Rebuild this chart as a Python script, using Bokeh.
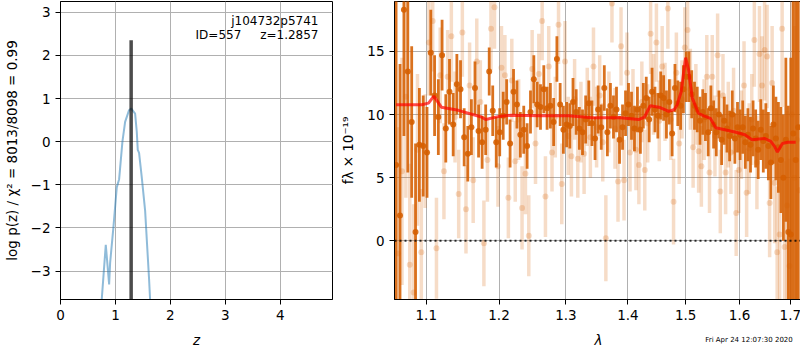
import numpy as np
from bokeh.plotting import figure
from bokeh.layouts import row
from bokeh.models import Range1d, Span, Label, CustomJSTickFormatter, PrintfTickFormatter
from bokeh.embed import file_html
from bokeh.resources import INLINE

FONT = "DejaVu Sans"

# ---------------- left panel data: log p(z) ----------------
z_pz = [0.70, 0.751, 0.824, 0.885, 0.903, 0.964, 1.024, 1.067, 1.127, 1.176, 1.248,
        1.285, 1.358, 1.388, 1.406, 1.43, 1.479, 1.54, 1.612, 1.63, 1.67]
logpz = [-5.0, -3.65, -2.39, -3.31, -2.81, -1.97, -1.06, -0.87, 0.0, 0.46, 0.73,
         0.77, 0.65, 0.23, -0.19, -0.26, -0.83, -1.6, -3.19, -3.65, -4.6]
z_best = 1.2857
z_best_top = 2.35
obj_name = "j104732p5741"
obj_id = "ID=557"
z_text = "z=1.2857"

# ---------------- right panel data: spectrum ----------------
# strong (dark) spectrum
lamA = [1.061, 1.066, 1.071, 1.076, 1.081, 1.086, 1.091, 1.096, 1.101, 1.106,
        1.111, 1.116, 1.121, 1.126, 1.131, 1.136, 1.141, 1.146, 1.151, 1.156,
        1.161, 1.166, 1.171, 1.176, 1.181, 1.186, 1.191, 1.196, 1.201, 1.206,
        1.211, 1.216, 1.221, 1.226, 1.231, 1.236, 1.241, 1.246, 1.251, 1.256,
        1.261, 1.266, 1.271, 1.276, 1.281, 1.286, 1.291, 1.296, 1.301, 1.306,
        1.311, 1.316, 1.321, 1.326, 1.331, 1.336, 1.341, 1.346, 1.351, 1.356,
        1.361, 1.366, 1.371, 1.376, 1.381, 1.386, 1.391, 1.396, 1.401, 1.406,
        1.411, 1.416, 1.421, 1.426, 1.431, 1.436, 1.441, 1.446, 1.451, 1.456,
        1.461, 1.466, 1.471, 1.476, 1.481, 1.486, 1.491, 1.496, 1.501, 1.506,
        1.511, 1.516, 1.521, 1.526, 1.531, 1.536, 1.541, 1.546, 1.551, 1.556,
        1.561, 1.566, 1.571, 1.576, 1.581, 1.586, 1.591, 1.596, 1.601, 1.606,
        1.611, 1.616, 1.621, 1.626, 1.631, 1.636, 1.641, 1.646, 1.651, 1.656,
        1.661, 1.666, 1.671, 1.676, 1.681, 1.686, 1.691, 1.696, 1.701, 1.706,
        1.711, 1.716]
fluxA = [6.0, 2.0, 18.3, 13.4, 9.4, 0.7, 7.6, 7.5, 7.0, 14.9,
         11.5, 9.8, 14.7, 8.9, 11.8, 9.2, 12.4, 12.0, 8.2, 6.9,
         9.0, 12.1, 8.7, 7.8, 8.8, 13.4, 10.3, 7.8, 8.6, 9.9,
         11.0, 7.7, 11.8, 10.8, 8.4, 8.8, 7.5, 10.2, 12.8, 10.8,
         10.6, 12.0, 10.5, 10.7, 9.4, 14.4, 10.8, 8.8, 9.2, 9.1,
         11.0, 10.2, 8.9, 8.6, 9.6, 10.9, 9.3, 8.1, 10.4, 9.0,
         12.1, 8.6, 10.7, 9.8, 10.4, 8.0, 9.0, 10.1, 10.8, 9.9,
         8.9, 10.4, 8.8, 10.7, 11.3, 9.6, 11.8, 10.4, 9.9, 11.5,
         11.3, 10.0, 11.0, 8.5, 12.1, 10.9, 10.7, 12.0, 13.0, 13.0,
         11.6, 10.7, 10.4, 9.5, 10.2, 9.8, 8.6, 10.5, 9.2, 8.6,
         10.0, 8.0, 9.5, 8.9, 8.3, 10.0, 8.1, 9.0, 8.4, 9.0,
         7.8, 8.4, 7.6, 8.9, 8.1, 7.2, 8.8, 7.9, 8.3, 7.5,
         6.2, 9.2, 8.1, 7.4, 6.4, 5.0, 8.0, 0.7, 0.5, 8.5,
         6.4, 9.0]
errA = [14, 12, 10, 8, 6, 7, 4.5, 4.0, 3.6, 3.4,
        3.2, 3.0, 2.8, 2.7, 2.6, 2.5, 2.4, 2.3, 2.3, 2.2,
        2.2, 2.1, 2.1, 2.1, 2.0, 1.9, 2.0, 2.0, 1.9, 1.9,
        1.8, 1.9, 1.8, 1.9, 1.8, 1.9, 1.8, 1.7, 1.9, 1.8,
        1.8, 1.9, 1.7, 1.8, 1.9, 1.8, 1.7, 1.9, 1.8, 1.8,
        1.9, 1.8, 1.7, 1.8, 1.9, 1.8, 1.8, 1.7, 1.9, 1.8,
        1.8, 1.9, 1.8, 1.7, 1.8, 1.9, 1.8, 1.8, 1.7, 1.9,
        1.8, 1.8, 1.9, 1.8, 1.7, 1.8, 1.9, 1.8, 1.8, 1.9,
        1.8, 1.9, 1.8, 1.8, 1.9, 1.8, 1.9, 1.9, 2.0, 2.0,
        1.9, 1.9, 1.8, 1.9, 1.8, 1.9, 1.9, 1.8, 1.9, 1.9,
        1.9, 2.0, 1.9, 1.9, 2.0, 1.9, 2.0, 2.0, 2.0, 2.1,
        2.1, 2.1, 2.2, 2.2, 2.3, 2.3, 2.4, 2.5, 2.6, 2.7,
        2.9, 3.1, 3.3, 3.6, 4.2, 5.0, 6.5, 10, 14, 16,
        18, 20]

# weak (light) spectrum
lamB = [1.0635, 1.0685, 1.0735, 1.0785, 1.0835, 1.0885, 1.0935, 1.0985, 1.1035, 1.1085,
        1.1135, 1.1185, 1.1235, 1.1285, 1.1335, 1.1385, 1.1435, 1.1485, 1.1535, 1.1585,
        1.1635, 1.1685, 1.1735, 1.1785, 1.1835, 1.1885, 1.1935, 1.1985, 1.2035, 1.2085,
        1.2135, 1.2185, 1.2235, 1.2285, 1.2335, 1.2385, 1.2435, 1.2485, 1.2535, 1.2585,
        1.2635, 1.2685, 1.2735, 1.2785, 1.2835, 1.2885, 1.2935, 1.2985, 1.3035, 1.3085,
        1.3135, 1.3185, 1.3235, 1.3285, 1.3335, 1.3385, 1.3435, 1.3485, 1.3535, 1.3585,
        1.3635, 1.3685, 1.3735, 1.3785, 1.3835, 1.3885, 1.3935, 1.3985, 1.4035, 1.4085,
        1.4135, 1.4185, 1.4235, 1.4285, 1.4335, 1.4385, 1.4435, 1.4485, 1.4535, 1.4585,
        1.4635, 1.4685, 1.4735, 1.4785, 1.4835, 1.4885, 1.4935, 1.4985, 1.5035, 1.5085,
        1.5135, 1.5185, 1.5235, 1.5285, 1.5335, 1.5385, 1.5435, 1.5485, 1.5535, 1.5585,
        1.5635, 1.5685, 1.5735, 1.5785, 1.5835, 1.5885, 1.5935, 1.5985, 1.6035, 1.6085,
        1.6135, 1.6185, 1.6235, 1.6285, 1.6335, 1.6385, 1.6435, 1.6485, 1.6535, 1.6585,
        1.6635, 1.6685, 1.6735, 1.6785, 1.6835, 1.6885, 1.6935, 1.6985, 1.7035, 1.7085,
        1.7135, 1.7185]
fluxB = [-1.0, 5.5, 11.4, -1.9, -4.1, 7.2, -0.9, 7.1, 15.7, 17.4,
         -0.6, 13.1, 5.5, 13.0, 16.2, 9.8, 3.7, 16.5, 2.5, 12.3,
         4.8, 14.2, 11.0, -0.2, 6.4, 16.8, 18.5, 5.9, 13.7, 13.1,
         3.4, 12.7, 6.3, 9.6, 2.6, 5.3, 0.4, 13.6, 7.7, 13.2,
         17.4, 3.5, 13.8, 7.0, 9.8, 17.1, 4.5, 14.2, 8.3, 6.7,
         11.2, 6.5, 9.4, 6.9, 10.6, 8.2, 13.8, 9.0, 11.5, 7.8,
         0.2, 10.2, 18.8, 8.9, 4.7, 15.4, 4.8, 13.3, 7.0, 10.4,
         7.2, 6.0, 11.0, 5.6, 9.3, 16.4, 11.6, 15.7, 9.5, 13.8,
         11.0, 18.4, 9.6, 3.1, 13.3, 7.7, 11.2, 15.3, 16.7, 12.0,
         7.4, 10.8, 7.1, 5.9, 9.6, 13.0, 5.4, 13.0, 8.3, 14.7,
         3.9, 11.5, 5.4, 9.2, 7.0, 10.3, 2.2, 5.6, 8.4, 12.3,
         3.8, 7.3, 9.6, 15.9, 6.2, 14.8, 12.3, 15.1, 14.6, 3.0,
         12.5, 4.6, -0.9, 0.5, 16.8, -0.5, 2.8, -2.0, 10.0, 5.0,
         8.0, 4.0]
errB = [10, 9, 8, 8, 7, 6, 5, 4.5, 4.2, 4.0,
        4.0, 3.8, 3.8, 3.7, 3.6, 3.6, 3.5, 3.5, 3.5, 3.4,
        3.4, 3.4, 3.3, 3.4, 3.3, 3.3, 3.3, 3.2, 3.3, 3.2,
        3.2, 3.3, 3.2, 3.2, 3.3, 3.2, 3.2, 3.1, 3.2, 3.2,
        3.1, 3.2, 3.2, 3.1, 3.2, 3.1, 3.2, 3.2, 3.1, 3.2,
        3.2, 3.1, 3.2, 3.2, 3.1, 3.2, 3.1, 3.2, 3.2, 3.1,
        3.4, 3.2, 3.1, 3.2, 3.2, 3.1, 3.2, 3.2, 3.1, 3.2,
        3.2, 3.1, 3.2, 3.2, 3.1, 3.2, 3.2, 3.1, 3.2, 3.2,
        3.1, 3.2, 3.2, 3.4, 3.2, 3.2, 3.1, 3.2, 3.2, 3.2,
        3.2, 3.2, 3.3, 3.2, 3.2, 3.3, 3.2, 3.3, 3.2, 3.3,
        3.3, 3.3, 3.3, 3.4, 3.3, 3.4, 3.4, 3.4, 3.5, 3.5,
        3.5, 3.6, 3.6, 3.7, 3.7, 3.8, 3.9, 4.0, 4.1, 4.3,
        4.5, 4.8, 5.2, 5.6, 6.2, 6.8, 7.5, 8.5, 10, 12,
        14, 16]

# best-fit model
lam_model = [1.061, 1.094, 1.103, 1.110, 1.120, 1.143, 1.175, 1.181, 1.200, 1.218,
             1.260, 1.304, 1.341, 1.387, 1.418, 1.428, 1.438, 1.455, 1.470, 1.480,
             1.485, 1.492, 1.496, 1.500, 1.505, 1.512, 1.523, 1.533, 1.545, 1.555,
             1.593, 1.610, 1.624, 1.649, 1.660, 1.668, 1.674, 1.684, 1.695, 1.711]
flux_model = [10.77, 10.77, 10.9, 11.45, 10.58, 10.33, 9.8, 9.6, 9.85, 9.95,
              9.9, 9.9, 9.75, 9.75, 9.6, 9.8, 10.7, 10.55, 10.25, 10.4,
              10.77, 11.8, 13.2, 14.5, 13.6, 11.3, 10.1, 9.9, 9.7, 8.95,
              8.6, 8.4, 8.0, 8.1, 7.9, 7.5, 7.03, 7.7, 7.8, 7.81]

ylabel_left = "log p(z) / \u03c7\u00b2 = 8013/8098 = 0.99"
ylabel_right = "f\u03bb \u00d7 10\u207b\u00b9\u2079"
timestamp = "Fri Apr 24 12:07:30 2020"

z_ticks = [0, 1, 2, 3, 4]
lp_ticks = [-3, -2, -1, 0, 1, 2, 3]
lam_ticks = [1.1, 1.2, 1.3, 1.4, 1.5, 1.6, 1.7]
f_ticks = [0, 5, 10, 15]

assert len(lamA) == len(fluxA) == len(errA)
assert len(lamB) == len(fluxB) == len(errB)
assert len(lam_model) == len(flux_model)
assert len(z_pz) == len(logpz)

GRISM = "#d55e00"
minus_fmt = CustomJSTickFormatter(code="return tick < 0 ? '\u2212' + Math.abs(tick) : String(tick);")


def style(p):
    p.outline_line_color = "black"
    p.outline_line_width = 1
    p.outline_line_alpha = 1
    p.background_fill_color = "white"
    p.border_fill_color = "white"
    for ax in p.axis:
        ax.axis_line_color = "black"
        ax.major_tick_line_color = "black"
        ax.major_tick_out = 5
        ax.major_tick_in = 0
        ax.minor_tick_line_color = None
        ax.major_label_text_font = FONT
        ax.major_label_text_font_size = "13.5px"
        ax.major_label_text_color = "black"
        ax.major_label_standoff = 5
        ax.axis_label_text_font = FONT
        ax.axis_label_text_font_size = "13.5px"
        ax.axis_label_text_color = "black"
    p.grid.grid_line_color = "#b0b0b0"
    p.grid.grid_line_width = 1


# ---------------- left figure ----------------
p1 = figure(frame_width=272, frame_height=298, min_border_left=54, min_border_right=5,
            min_border_top=1, min_border_bottom=43,
            x_range=Range1d(0, 4.95), y_range=Range1d(-3.66, 3.25),
            output_backend="svg", toolbar_location=None)
style(p1)
p1.xaxis.ticker = z_ticks
p1.yaxis.ticker = lp_ticks
p1.yaxis.formatter = minus_fmt
p1.xaxis.axis_label = "z"
p1.xaxis.axis_label_text_font_style = "italic"
p1.xaxis.axis_label_standoff = 9
p1.yaxis.axis_label = ylabel_left
p1.yaxis.axis_label_text_font_style = "normal"
p1.yaxis.axis_label_standoff = 8

p1.line(z_pz, logpz, line_color="#1f77b4", line_alpha=0.5, line_width=2)
p1.segment(x0=[z_best], y0=[p1.y_range.start], x1=[z_best], y1=[z_best_top],
           line_color="black", line_alpha=0.7, line_width=3.5)

for txt, xx, yy in [(obj_name, 4.695, 2.793), (obj_id, 3.29, 2.478), (z_text, 4.695, 2.478)]:
    p1.add_layout(Label(x=xx, y=yy, text=txt, text_align="right", text_baseline="middle",
                        text_font=FONT, text_font_size="12px", text_color="black"))

# ---------------- right figure ----------------
p2 = figure(frame_width=408, frame_height=298, min_border_left=51, min_border_right=2,
            min_border_top=1, min_border_bottom=43, x_axis_type="log",
            x_range=Range1d(1.059, 1.725), y_range=Range1d(-4.65, 18.95),
            output_backend="svg", toolbar_location=None)
style(p2)
p2.xaxis.ticker = lam_ticks
p2.xgrid.ticker = lam_ticks
p2.xaxis.formatter = PrintfTickFormatter(format="%.1f")
p2.yaxis.ticker = f_ticks
p2.ygrid.ticker = f_ticks
p2.xaxis.axis_label = "\u03bb"
p2.xaxis.axis_label_text_font_style = "italic"
p2.xaxis.axis_label_standoff = 9
p2.yaxis.axis_label = ylabel_right
p2.yaxis.axis_label_text_font_style = "normal"
p2.yaxis.axis_label_standoff = 8

lA = np.array(lamA); fA = np.array(fluxA); eA = np.array(errA)
lB = np.array(lamB); fB = np.array(fluxB); eB = np.array(errB)

p2.segment(x0=lB, y0=fB - eB, x1=lB, y1=fB + eB, line_color=GRISM, line_alpha=0.22, line_width=3.5)
p2.scatter(lB, fB, size=6, fill_color=GRISM, line_color=None, fill_alpha=0.22)
p2.segment(x0=lA, y0=fA - eA, x1=lA, y1=fA + eA, line_color=GRISM, line_alpha=0.88, line_width=2.8)
p2.scatter(lA, fA, size=6, fill_color=GRISM, line_color=None, fill_alpha=0.88)
p2.line(lam_model, flux_model, line_color="red", line_alpha=0.7, line_width=3)
p2.add_layout(Span(location=0, dimension="width", line_color="black", line_alpha=0.8,
                   line_dash="2 3", line_width=2))
p2.add_layout(Label(x=1.705, y=-7.82, text=timestamp, text_align="right", text_baseline="middle",
                    text_font=FONT, text_font_size="7px", text_color="black"), "below")

layout = row(p1, p2)
open("out.html", "w").write(file_html(layout, INLINE))
